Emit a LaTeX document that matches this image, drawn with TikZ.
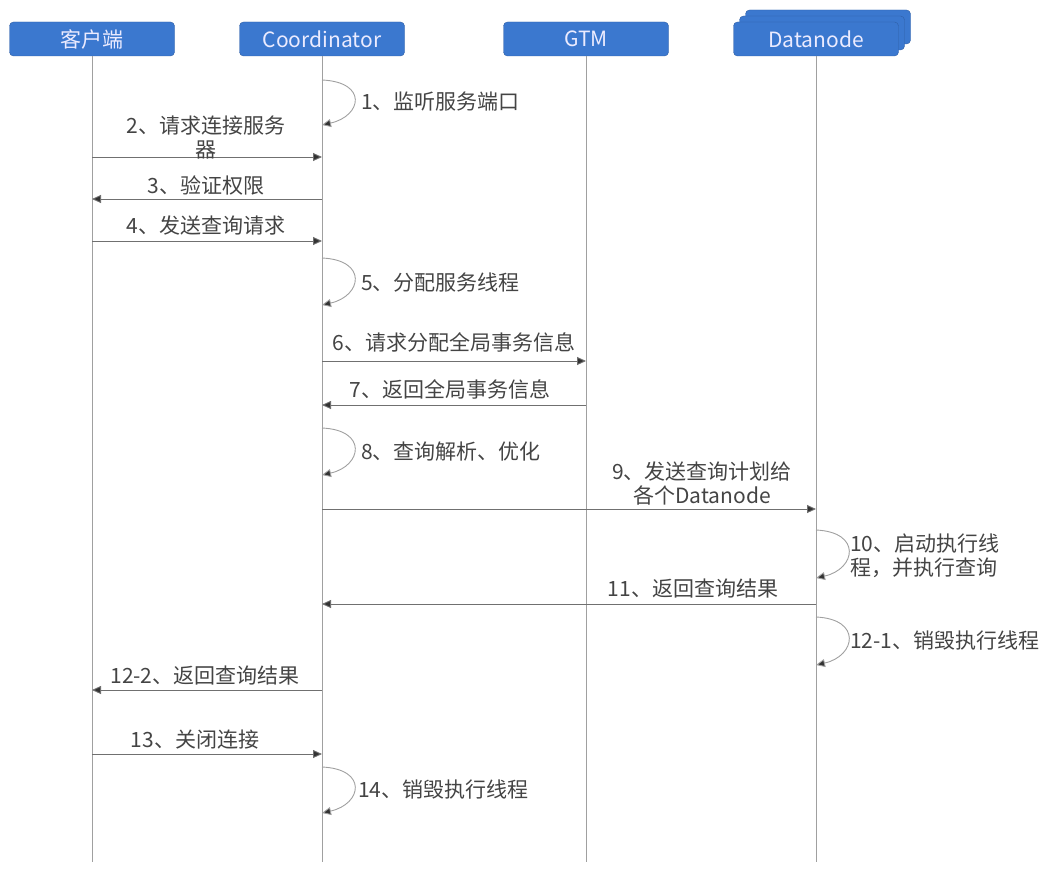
\documentclass[tikz,border=0pt]{standalone}
\usepackage{fontspec}
\setmainfont{Noto Sans CJK SC}
\usetikzlibrary{arrows.meta}
\definecolor{boxblue}{HTML}{3B78CF}
\definecolor{boxedge}{HTML}{2F5FA5}
\definecolor{lifegray}{HTML}{A0A0A0}
\definecolor{msggray}{HTML}{707070}
\definecolor{txtgray}{HTML}{444444}
\begin{document}
\begin{tikzpicture}[x=1pt,y=-1pt,
  head/.style={draw=boxedge,fill=boxblue,rounded corners=4pt,minimum width=165pt,minimum height=34pt,
    inner sep=0pt,text=white!92!blue,font=\fontsize{21}{24}\selectfont},
  life/.style={draw=lifegray,line width=1pt},
  msg/.style={draw=msggray,line width=0.9pt,-{Triangle[length=9pt,width=8pt,fill=black!80]}},
  loop/.style={draw=lifegray,line width=0.9pt,-{Triangle[length=9pt,width=8pt,fill=black!80]}},
  lbl/.style={text=txtgray,font=\fontsize{21}{24}\selectfont,inner sep=0pt},
]
\useasboundingbox (0,0) rectangle (1064,872);
% headers
\node[head] (cl) at (92,39) {客户端};
\node[head] (co) at (322,39) {Coordinator};
\node[head] (gt) at (586,39) {GTM};
\node[head] (dn3) at (828,27) {};
\node[head] (dn2) at (822,33) {};
\node[head] (dn) at (816,39) {Datanode};
% lifelines
\coordinate (clE) at (92,862);
\coordinate (coE) at (322,862);
\coordinate (gtE) at (586,862);
\coordinate (dnE) at (816,862);
\draw[life] (cl.south) -- (clE);
\draw[life] (co.south) -- (coE);
\draw[life] (gt.south) -- (gtE);
\draw[life] (dn.south) -- (dnE);
% 1
\draw[loop] (co |- 0,80) .. controls (368,82) and (362,116) .. (co |- 0,125);
\node[lbl,anchor=west] (l1) at (361,102) {1、监听服务端口};
% 2
\draw[msg] (cl |- 0,157) -- (co |- 0,157);
\node[lbl,align=center] (l2) at (206,138) {2、请求连接服务\\器};
% 3
\draw[msg] (co |- 0,199) -- (cl |- 0,199);
\node[lbl] (l3) at (206,185) {3、验证权限};
% 4
\draw[msg] (cl |- 0,241) -- (co |- 0,241);
\node[lbl] (l4) at (206,226) {4、发送查询请求};
% 5
\draw[loop] (co |- 0,258) .. controls (368,260) and (362,296) .. (co |- 0,305);
\node[lbl,anchor=west] (l5) at (361,283) {5、分配服务线程};
% 6
\draw[msg] (co |- 0,361) -- (gt |- 0,361);
\node[lbl] (l6) at (454,342) {6、请求分配全局事务信息};
% 7
\draw[msg] (gt |- 0,405) -- (co |- 0,405);
\node[lbl] (l7) at (450,389) {7、返回全局事务信息};
% 8
\draw[loop] (co |- 0,428) .. controls (368,430) and (362,466) .. (co |- 0,475);
\node[lbl,anchor=west] (l8) at (361,452) {8、查询解析、优化};
% 9
\draw[msg] (co |- 0,509) -- (dn |- 0,509);
\node[lbl,align=center] (l9) at (702,484) {9、发送查询计划给\\各个Datanode};
% 10
\draw[loop] (dn |- 0,530) .. controls (862,532) and (856,569) .. (dn |- 0,578);
\node[lbl,anchor=west,align=left] (l10) at (850,556) {10、启动执行线\\程，并执行查询};
% 11
\draw[msg] (dn |- 0,604) -- (co |- 0,604);
\node[lbl] (l11) at (693,589) {11、返回查询结果};
% 12-1
\draw[loop] (dn |- 0,617) .. controls (862,619) and (856,656) .. (dn |- 0,665);
\node[lbl,anchor=west] (l121) at (850,641) {12-1、销毁执行线程};
% 12-2
\draw[msg] (co |- 0,690) -- (cl |- 0,690);
\node[lbl] (l122) at (205,675) {12-2、返回查询结果};
% 13
\draw[msg] (cl |- 0,754) -- (co |- 0,754);
\node[lbl] (l13) at (195,740) {13、关闭连接};
% 14
\draw[loop] (co |- 0,767) .. controls (368,769) and (362,804) .. (co |- 0,813);
\node[lbl,anchor=west] (l14) at (358,790) {14、销毁执行线程};
\end{tikzpicture}
\end{document}
